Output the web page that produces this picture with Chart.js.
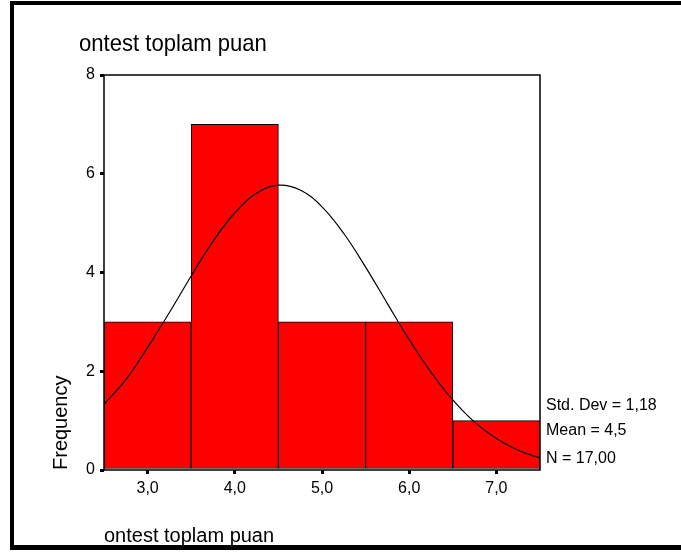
<!DOCTYPE html>
<html>
<head>
<meta charset="utf-8">
<script src="https://cdn.jsdelivr.net/npm/chart.js@4.4.0/dist/chart.umd.min.js"></script>
<style>
  html, body { margin: 0; padding: 0; background: #fff; overflow: hidden; }
  #wrap { position: relative; width: 681px; height: 552px; }
  #frame {
    position: absolute; left: 10px; top: 1px; width: 700px; height: 549px;
    box-sizing: border-box; pointer-events: none;
    border-left: 4px solid #000; border-top: 4px solid #000; border-bottom: 5px solid #000;
  }
  canvas { position: absolute; left: 0; top: 0; }
</style>
</head>
<body>
<div id="wrap">
  <canvas id="histChart" width="681" height="552"></canvas>
  <div id="frame"></div>
</div>
<script>
const FONT = '"Liberation Sans", Arial, Helvetica, sans-serif';

const chartTitle = "ontest toplam puan";
const axisTitleX = "ontest toplam puan";
const axisTitleY = "Frequency";

// histogram bins (midpoints) and counts
const binMids = [3, 4, 5, 6, 7];
const binCounts = [3, 7, 3, 3, 1];

// tick labels
const xTickValues = [3, 4, 5, 6, 7];
const xTickLabels = ["3,0", "4,0", "5,0", "6,0", "7,0"];
const yTickValues = [0, 2, 4, 6, 8];

// normal curve
const curveX = [2.5, 2.75, 3, 3.25, 3.5, 3.75, 4, 4.25, 4.5, 4.75, 5, 5.25, 5.5, 5.75, 6, 6.25, 6.5, 6.75, 7, 7.25, 7.5];
const curveY = [1.33, 1.83, 2.48, 3.19, 3.93, 4.63, 5.21, 5.61, 5.77, 5.67, 5.33, 4.79, 4.11, 3.37, 2.64, 1.98, 1.42, 0.97, 0.64, 0.40, 0.24];

const statsLines = ["Std. Dev = 1,18", "Mean = 4,5", "N = 17,00"];

// box round the plot area
const framePlugin = {
    id: "plotFrame",
    afterDatasetsDraw(chart) {
        const { ctx, chartArea } = chart;
        ctx.save();
        ctx.strokeStyle = "#000";
        ctx.lineWidth = 1.5;
        ctx.strokeRect(chartArea.left, chartArea.top, chartArea.right - chartArea.left, chartArea.bottom - chartArea.top);
        ctx.restore();
    }
};

// main title and stats box text
const textPlugin = {
    id: "spssText",
    afterDraw(chart) {
        const { ctx, chartArea } = chart;
        ctx.save();
        ctx.fillStyle = "#000";
        ctx.textAlign = "left";
        ctx.textBaseline = "alphabetic";

        // title font is a bit narrower than Arial, so squeeze it sideways
        ctx.save();
        ctx.translate(chartArea.left - 25, chartArea.top - 24);
        ctx.scale(0.92, 1);
        ctx.font = `24px ${FONT}`;
        ctx.fillText(chartTitle, 0, 0);
        ctx.restore();

        ctx.font = `16px ${FONT}`;
        const offsets = [60, 35, 7];
        statsLines.forEach((t, i) => {
            ctx.fillText(t, chartArea.right + 6, chartArea.bottom - offsets[i]);
        });
        ctx.restore();
    }
};

const ctx = document.getElementById("histChart");

new Chart(ctx, {
    type: "bar",
    data: {
        datasets: [
            {
                type: "line",
                data: curveX.map((x, i) => ({ x: x, y: curveY[i] })),
                borderColor: "#000",
                borderWidth: 1.2,
                pointRadius: 0,
                tension: 0.4,
                fill: false,
                order: 0
            },
            {
                type: "bar",
                data: binMids.map((x, i) => ({ x: x, y: binCounts[i] })),
                backgroundColor: "#ff0000",
                borderColor: "#000",
                borderWidth: 1,
                borderSkipped: false,
                barPercentage: 1,
                categoryPercentage: 1,
                order: 1
            }
        ]
    },
    options: {
        responsive: false,
        animation: false,
        layout: { padding: { top: 75, right: 141, bottom: 0, left: 0 } },
        plugins: {
            legend: { display: false },
            title: { display: false },
            tooltip: { enabled: false }
        },
        scales: {
            x: {
                type: "linear",
                min: 2.5,
                max: 7.5,
                offset: false,
                afterBuildTicks: scale => {
                    scale.ticks = xTickValues.map(v => ({ value: v }));
                },
                afterFit: scale => { scale.height = 82; },
                border: { display: false },
                grid: {
                    offset: false,
                    drawOnChartArea: false,
                    drawTicks: true,
                    tickLength: 4,
                    lineWidth: 3,
                    color: "#000"
                },
                ticks: {
                    color: "#000",
                    padding: 5,
                    maxRotation: 0,
                    font: { family: FONT, size: 16 },
                    callback: v => xTickLabels[xTickValues.indexOf(v)]
                },
                title: {
                    display: true,
                    text: axisTitleX,
                    align: "start",
                    color: "#000",
                    font: { family: FONT, size: 20, lineHeight: 1 },
                    padding: { top: 0, bottom: 6 }
                }
            },
            y: {
                min: 0,
                max: 8,
                afterBuildTicks: scale => {
                    scale.ticks = yTickValues.map(v => ({ value: v }));
                },
                afterFit: scale => { scale.width = 104; },
                border: { display: false },
                grid: {
                    drawOnChartArea: false,
                    drawTicks: true,
                    tickLength: 4,
                    lineWidth: 3,
                    color: "#000"
                },
                ticks: {
                    color: "#000",
                    padding: 5,
                    font: { family: FONT, size: 16 }
                },
                title: {
                    display: true,
                    text: axisTitleY,
                    align: "start",
                    color: "#000",
                    font: { family: FONT, size: 20, lineHeight: 1 },
                    padding: { top: 51, bottom: 0 }
                }
            }
        }
    },
    plugins: [framePlugin, textPlugin]
});
</script>
</body>
</html>
